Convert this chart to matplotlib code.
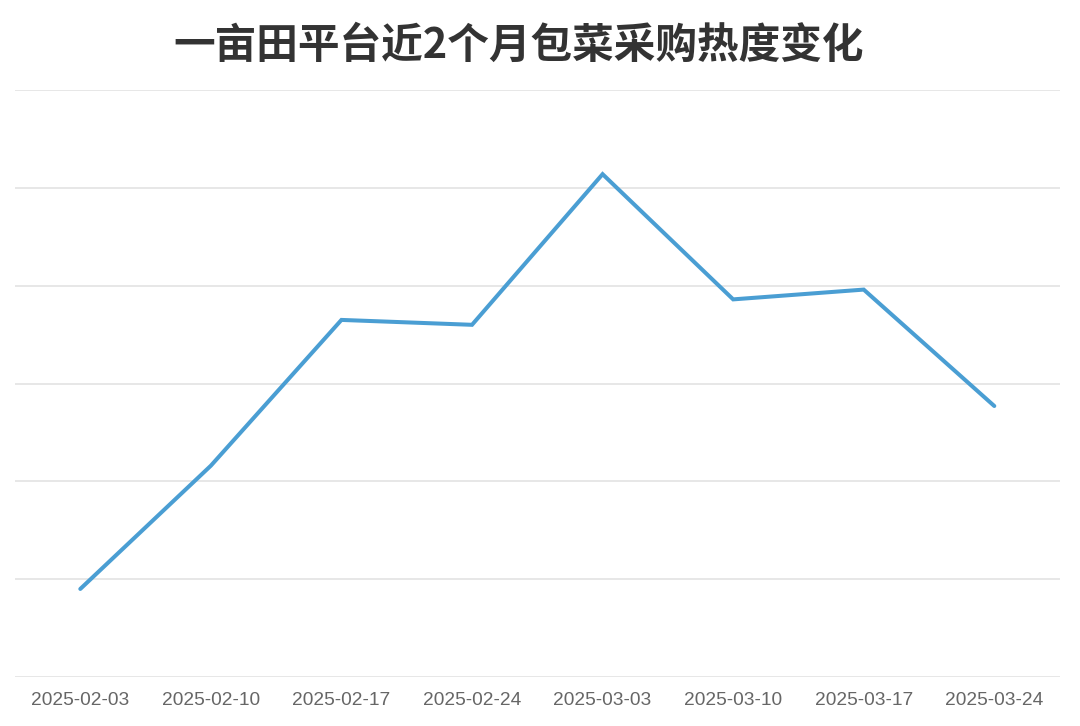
import matplotlib
matplotlib.use('Agg')
import matplotlib.pyplot as plt

plt.rcParams['font.family'] = ['Noto Sans CJK SC', 'DejaVu Sans']

# ── data ────────────────────────────────────────────────────────────────
dates = ['2025-02-03', '2025-02-10', '2025-02-17', '2025-02-24',
         '2025-03-03', '2025-03-10', '2025-03-17', '2025-03-24']
heat = [9.0, 21.6, 36.5, 36.0, 51.4, 38.6, 39.6, 27.7]
title = '一亩田平台近2个月包菜采购热度变化'

# ── figure ──────────────────────────────────────────────────────────────
fig = plt.figure(figsize=(10.8, 7.26), dpi=100, facecolor='white')
ax = fig.add_axes([0.0139, 0.0675, 0.9672, 0.8085])

x = list(range(len(dates)))
ax.plot(x, heat, color='#4a9ed3', lw=2.9, solid_capstyle='round',
        solid_joinstyle='miter', zorder=3)

ax.set_xlim(-0.5, len(dates) - 0.5)
ax.set_ylim(0, 60)
ax.set_yticks(range(0, 61, 10))
ax.yaxis.grid(True, color='#e3e3e3', lw=1.2)
ax.tick_params(axis='y', left=False, labelleft=False)
ax.set_xticks(x)
ax.set_xticklabels(dates, fontsize=13.8, color='#666666',
                   family=['Liberation Sans', 'DejaVu Sans'])
ax.tick_params(axis='x', length=0, pad=11)
for s in ax.spines.values():
    s.set_visible(False)

fig.text(0.480, 0.937, title, ha='center', va='center', fontsize=30,
         fontweight='bold', color='#333333')

fig.savefig('out.png', dpi=100, facecolor='white')
